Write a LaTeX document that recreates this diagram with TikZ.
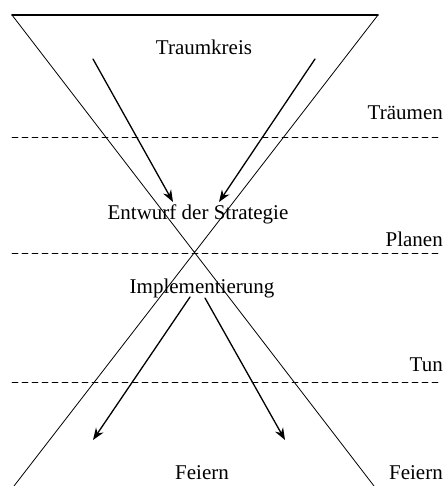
\documentclass[tikz,border=0pt]{standalone}
\usepackage{fontspec}
\setmainfont{Liberation Serif}
\usetikzlibrary{arrows.meta}
\begin{document}
\begin{tikzpicture}[line cap = round,>={Stealth[length=12pt,width=9pt]},x=1pt,y=-1pt,
  every node/.style={font=\fontsize{21}{24}\selectfont,inner sep=0pt},
  phase/.style={anchor=east},
  stage/.style={dashed,dash pattern=on 6pt off 4pt,line width=0.9pt}]
  \useasboundingbox (0,0) rectangle (445,486);
  % the X
  \coordinate (tl) at (12,15);
  \coordinate (tr) at (378,15);
  \coordinate (bl) at (14,486);
  \coordinate (br) at (374,486);
  \draw[line width=1.6pt] (tl)--(tr);
  \draw[line width=0.8pt] (tl)--(br) (tr)--(bl);
  % stages
  \draw[stage] (12,137)--(440,137) (12,253)--(440,253) (12,382)--(440,382);
  \node[phase] (traeumen) at (443,113) {Träumen};
  \node[phase] (planen) at (443,239) {Planen};
  \node[phase] (tun) at (443,365) {Tun};
  \node[phase] (feiernr) at (443,473) {Feiern};
  % inner labels
  \node (traum) at (204,47) {Traumkreis};
  \node (entwurf) at (198,214) {Entwurf der Strategie};
  \node (impl) at (202,288) {Implementierung};
  \node (feiern) at (202,473) {Feiern};
  % arrows
  \coordinate (a1) at (93,59);   \coordinate (a2) at (173,202);
  \coordinate (b1) at (315,59);  \coordinate (b2) at (219,202);
  \coordinate (c1) at (190,297); \coordinate (c2) at (93,440);
  \coordinate (d1) at (205,298); \coordinate (d2) at (285,440);
  \draw[->,line width=1.3pt] (a1)--(a2);
  \draw[->,line width=1.3pt] (b1)--(b2);
  \draw[->,line width=1.3pt] (c1)--(c2);
  \draw[->,line width=1.3pt] (d1)--(d2);
\end{tikzpicture}
\end{document}
